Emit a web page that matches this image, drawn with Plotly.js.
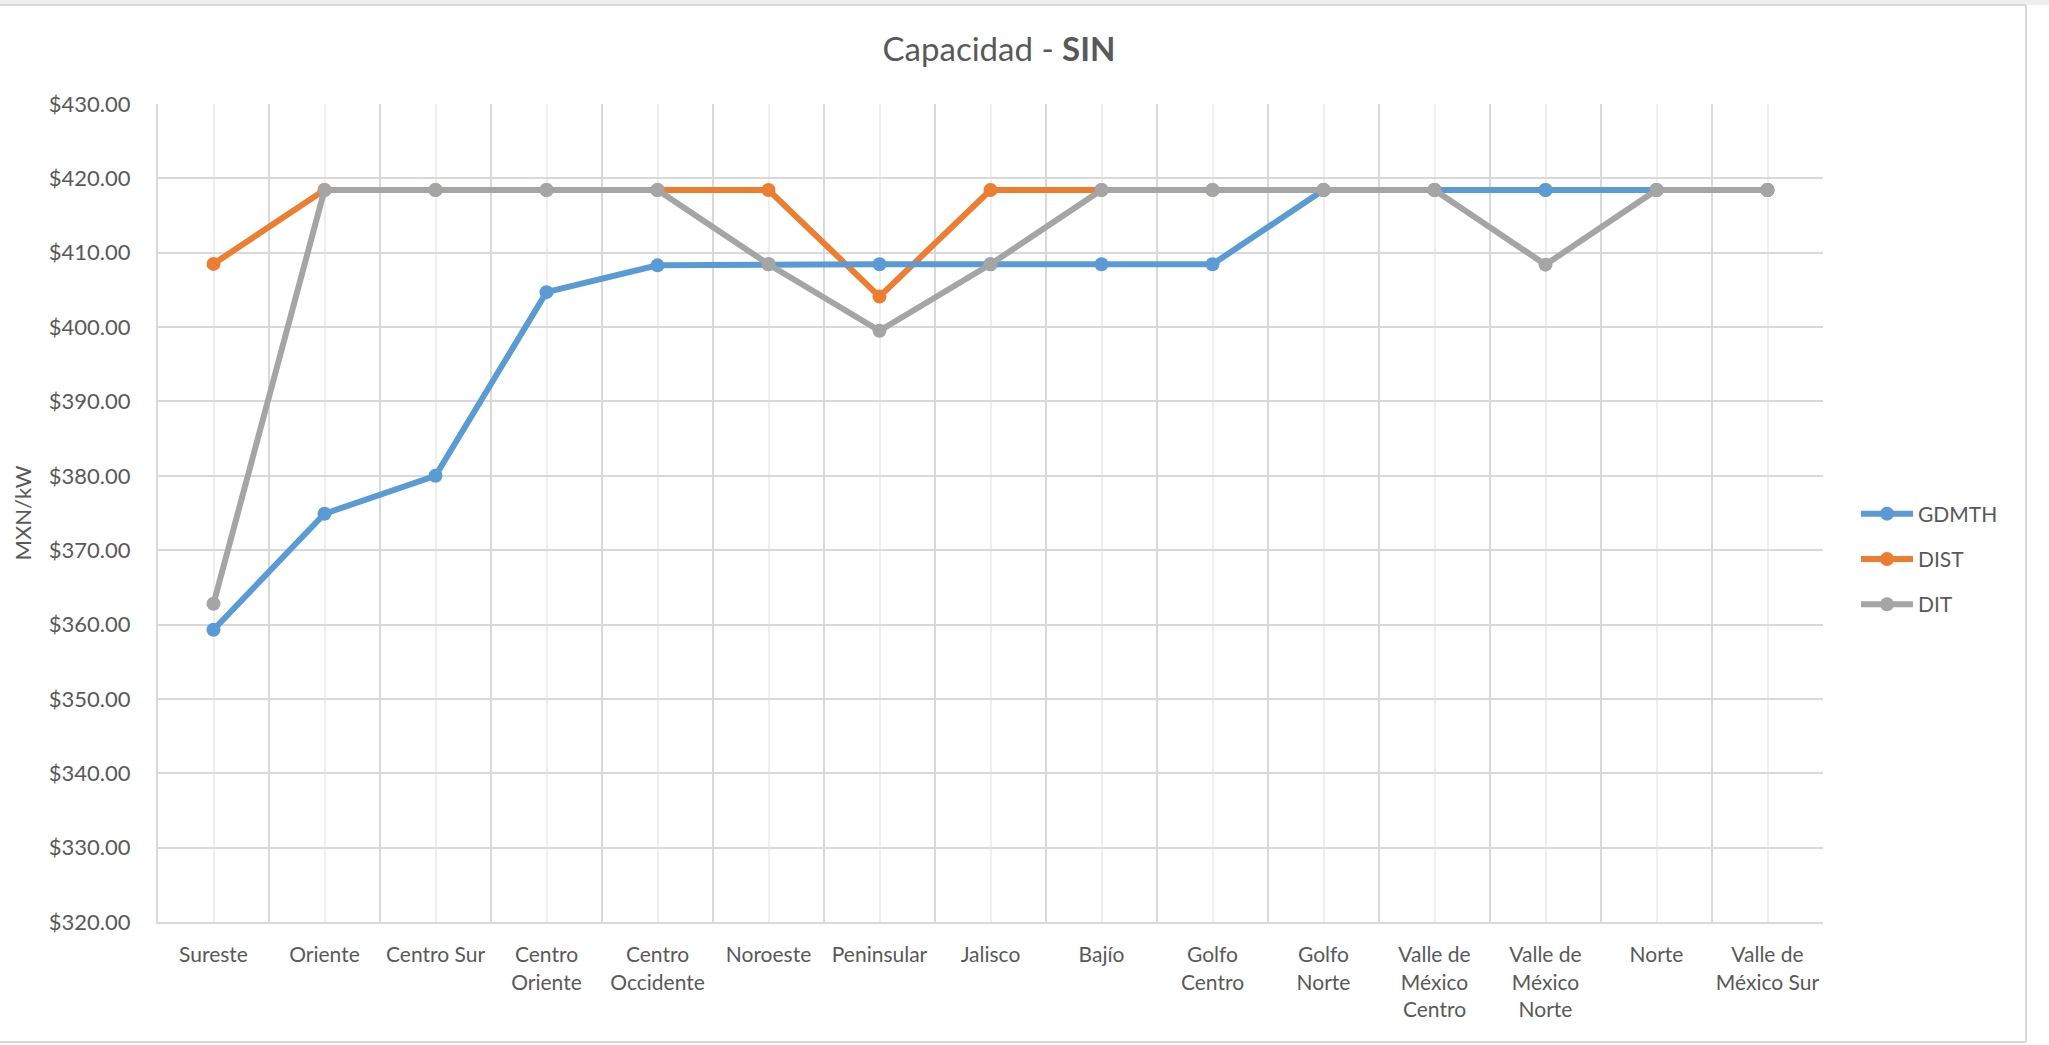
<!DOCTYPE html>
<html>
<head>
<meta charset="utf-8">
<script src="https://cdn.plot.ly/plotly-3.0.1.min.js"></script>
<style>html,body{margin:0;padding:0;background:#fff;}</style>
</head>
<body>
<div id="chart" style="width:2049px;height:1045px;"></div>
<script>
// ---- data ----
const categories = ['Sureste','Oriente','Centro Sur','Centro Oriente','Centro Occidente','Noroeste','Peninsular','Jalisco','Bajío','Golfo Centro','Golfo Norte','Valle de México Centro','Valle de México Norte','Norte','Valle de México Sur'];
const tickLabels = ['Sureste','Oriente','Centro Sur','Centro<br>Oriente','Centro<br>Occidente','Noroeste','Peninsular','Jalisco','Bajío','Golfo<br>Centro','Golfo<br>Norte','Valle de<br>México<br>Centro','Valle de<br>México<br>Norte','Norte','Valle de<br>México Sur'];
const gdmth = [359.3, 374.9, 380.0, 404.7, 408.3, 408.45, 408.45, 408.45, 408.45, 408.45, 418.43, 418.43, 418.43, 418.43, 418.43];
const dist  = [408.5, 418.43, 418.43, 418.43, 418.43, 418.43, 404.1, 418.43, 418.43, 418.43, 418.43, 418.43, 418.43, 418.43, 418.43];
const dit   = [362.8, 418.43, 418.43, 418.43, 418.43, 408.45, 399.5, 408.45, 418.43, 418.43, 418.43, 418.43, 408.4, 418.43, 418.43];
const seriesNames = ['GDMTH','DIST','DIT'];
const seriesColors = ['#5B9BD5','#ED7D31','#A5A5A5'];
const yTickPrefix = '$';

// ---- geometry ----
const W = 2049, H = 1045;
const L = 158, R = 1823, T = 104, B = 922;
const px = v => (v - L) / (R - L);
const py = v => (B - v) / (B - T);

const idx = categories.map((_, i) => i);
const allSeries = [gdmth, dist, dit];

// drawing order: DIST underneath, then GDMTH, then DIT on top
const drawOrder = [1, 0, 2];
const traces = drawOrder.map(k => ({
  type: 'scatter',
  mode: 'lines+markers',
  name: seriesNames[k],
  legendgroup: seriesNames[k],
  legendrank: k + 1,
  x: idx,
  y: allSeries[k],
  text: categories,
  line: {color: seriesColors[k], width: 6},
  marker: {color: seriesColors[k], size: 14},
  hovertemplate: '%{text}: %{y:$.2f}<extra>' + seriesNames[k] + '</extra>'
}));

const layout = {
  width: W, height: H,
  margin: {l: L, r: W - R, t: T, b: H - B, pad: 0},
  paper_bgcolor: '#FFFFFF',
  plot_bgcolor: '#FFFFFF',
  font: {family: 'Lato, "Open Sans", sans-serif', color: '#595959', size: 21},
  title: {
    text: 'Capacidad - <b>SIN</b>',
    font: {size: 33, color: '#595959'},
    xref: 'container', x: 999 / W, xanchor: 'center',
    yref: 'container', y: 1 - 49 / H, yanchor: 'middle'
  },
  xaxis: {
    range: [-0.5, categories.length - 0.5],
    tickmode: 'array', tickvals: idx, ticktext: tickLabels,
    showgrid: true, gridcolor: '#EFEFEF', gridwidth: 1.5,
    minor: {tick0: -0.5, dtick: 1, showgrid: true, gridcolor: '#D9D9D9', gridwidth: 2, ticks: ''},
    showline: true, linecolor: '#D9D9D9', linewidth: 2,
    zeroline: false, ticks: '',
    ticklabelstandoff: 13,
    tickfont: {size: 21, color: '#595959'},
    fixedrange: true
  },
  yaxis: {
    range: [320, 430], tick0: 320, dtick: 10,
    tickprefix: yTickPrefix, tickformat: '.2f',
    showgrid: true, gridcolor: '#D9D9D9', gridwidth: 2,
    showline: true, linecolor: '#D9D9D9', linewidth: 2,
    zeroline: false, ticks: '',
    ticklabelstandoff: 21,
    tickfont: {size: 22, color: '#595959'},
    title: {text: 'MXN/kW', standoff: 11, font: {size: 22, color: '#595959'}},
    fixedrange: true
  },
  showlegend: true,
  legend: {
    xref: 'container', yref: 'container',
    x: 1856 / W, y: 1 - 559 / H, xanchor: 'left', yanchor: 'middle',
    font: {size: 21, color: '#595959'},
    tracegroupgap: 15, itemwidth: 52,
    traceorder: 'grouped',
    bgcolor: 'rgba(0,0,0,0)', borderwidth: 0
  },
  shapes: [
    {type: 'rect', xref: 'paper', yref: 'paper', x0: px(0), x1: px(W), y0: py(0), y1: py(5), fillcolor: '#EEEEEE', line: {width: 0}, layer: 'below'},
    {type: 'line', xref: 'paper', yref: 'paper', x0: px(0), x1: px(2026), y0: py(5), y1: py(5), line: {color: '#D9D9D9', width: 2}},
    {type: 'line', xref: 'paper', yref: 'paper', x0: px(2026), x1: px(2026), y0: py(5), y1: py(1042), line: {color: '#D9D9D9', width: 2}},
    {type: 'line', xref: 'paper', yref: 'paper', x0: px(0), x1: px(2026), y0: py(1042), y1: py(1042), line: {color: '#D9D9D9', width: 2}}
  ]
};

Plotly.newPlot('chart', traces, layout, {displayModeBar: false, staticPlot: false});
</script>
</body>
</html>
